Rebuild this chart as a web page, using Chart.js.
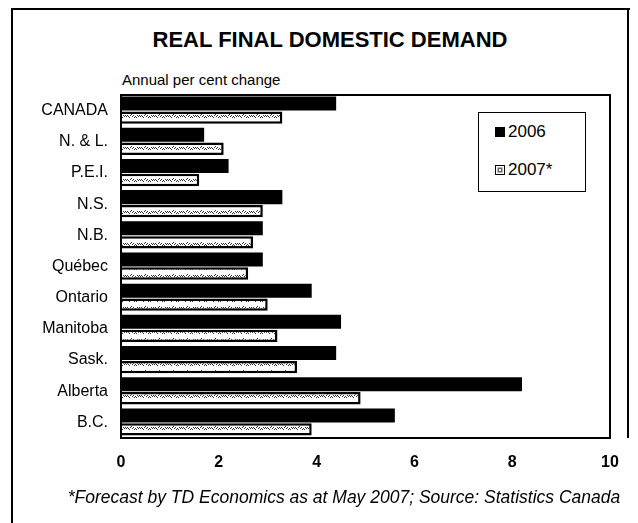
<!DOCTYPE html>
<html>
<head>
<meta charset="utf-8">
<title>Real Final Domestic Demand</title>
<script src="https://cdn.jsdelivr.net/npm/chart.js@4.4.0/dist/chart.umd.min.js"></script>
<style>
  html, body { margin: 0; padding: 0; background: #fff; }
  #wrap { position: relative; width: 638px; height: 523px; overflow: hidden; font-family: "Liberation Sans", Arial, sans-serif; color: #000; }
  #chart { position: absolute; left: 0; top: 0; }
  .frame { position: absolute; left: 11px; top: 8px; width: 617px; height: 530px; border-left: 2px solid #000; border-top: 2px solid #000; }
  .frame-right { position: absolute; left: 627px; top: 8px; width: 0; height: 430px; border-left: 2px solid #000; }
  .title { position: absolute; left: 0; width: 660px; top: 27px; text-align: center; font-weight: bold; font-size: 22px; }
  .subtitle { position: absolute; left: 122px; top: 71px; font-size: 15px; }
  .footer { position: absolute; left: 0; width: 688px; top: 487px; text-align: center; font-style: italic; font-size: 17.5px; }
  .legend { position: absolute; left: 478px; top: 112px; width: 106px; height: 78px; border: 1.5px solid #000; background: #fff; font-size: 17px; }
  .legend div { position: absolute; left: 16px; height: 18px; line-height: 18px; }
  .legend span { display: inline-block; width: 10px; height: 10px; margin-right: 3px; vertical-align: 0px; }
  .sw06 { background: #000; }
  .sw07 { background: #fff; border: 1.5px solid #000; width: 8px !important; height: 8px !important; box-shadow: inset 0 0 0 1.5px #fff, inset 0 0 0 3px #666; }
</style>
</head>
<body>
<div id="wrap">
  <div class="frame"></div>
  <div class="frame-right"></div>
  <div class="title">REAL FINAL DOMESTIC DEMAND</div>
  <div class="subtitle">Annual per cent change</div>
  <canvas id="chart" width="638" height="523"></canvas>
  <div class="legend">
    <div style="top:10px"><span class="sw06"></span>2006</div>
    <div style="top:48px"><span class="sw07"></span>2007*</div>
  </div>
  <div class="footer">*Forecast by TD Economics as at May 2007; Source: Statistics Canada</div>
</div>
<script>
// provinces, top to bottom
var regions = ['CANADA', 'N. & L.', 'P.E.I.', 'N.S.', 'N.B.', 'Québec', 'Ontario', 'Manitoba', 'Sask.', 'Alberta', 'B.C.'];
// annual per cent change
var growth2006 = [4.4, 1.7, 2.2, 3.3, 2.9, 2.9, 3.9, 4.5, 4.4, 8.2, 5.6];
var growth2007 = [3.3, 2.1, 1.6, 2.9, 2.7, 2.6, 3.0, 3.2, 3.6, 4.9, 3.9];
var xTicks = [0, 2, 4, 6, 8, 10];

// speckled fill for the forecast bars
function speckle() {
  var c = document.createElement('canvas');
  c.width = 14; c.height = 8;
  var g = c.getContext('2d');
  g.fillStyle = '#fff';
  g.fillRect(0, 0, 14, 8);
  g.fillStyle = '#333';
  var dots = [[1,3],[2,4],[4,3],[6,4],[7,3],[9,4],[11,3],[12,4],[3,5],[8,5],[13,3],[5,2],[10,5],[0,4]];
  dots.forEach(function (d) { g.fillRect(d[0], d[1], 1, 1); });
  return g.createPattern(c, 'repeat');
}

// black box round the plot area
var plotBorder = {
  id: 'plotBorder',
  afterDraw: function (chart) {
    var a = chart.chartArea, ctx = chart.ctx;
    ctx.save();
    ctx.strokeStyle = '#000';
    ctx.lineWidth = 2;
    ctx.strokeRect(a.left, a.top, a.right - a.left, a.bottom - a.top);
    ctx.restore();
  }
};

var ctx = document.getElementById('chart').getContext('2d');
var chart = new Chart(ctx, {
  type: 'bar',
  data: {
    labels: regions,
    datasets: [{
      label: '2006',
      data: growth2006,
      backgroundColor: '#000',
      borderWidth: 0,
      barPercentage: 1.0,
      categoryPercentage: 0.9
    }, {
      label: '2007*',
      data: growth2007,
      backgroundColor: speckle(),
      borderColor: '#000',
      borderWidth: 2.5,
      barPercentage: 0.88,
      categoryPercentage: 0.9
    }]
  },
  options: {
    indexAxis: 'y',
    responsive: false,
    animation: false,
    layout: { padding: { left: 0, top: 95, right: 28, bottom: 45 } },
    plugins: {
      legend: { display: false },
      tooltip: { enabled: false }
    },
    scales: {
      x: {
        min: 0,
        max: 10,
        afterFit: function (s) { s.height = 40; },
        afterBuildTicks: function (s) { s.ticks = xTicks.map(function (v) { return { value: v }; }); },
        grid: { display: false, drawTicks: false },
        border: { display: false },
        ticks: {
          padding: 15,
          color: '#000',
          maxRotation: 0,
          font: { family: 'Liberation Sans', size: 16, weight: 'bold' }
        }
      },
      y: {
        afterFit: function (s) { s.width = 121; },
        grid: { display: false, drawTicks: false },
        border: { display: false },
        ticks: {
          padding: 13,
          color: '#000',
          autoSkip: false,
          font: { family: 'Liberation Sans', size: 16 }
        }
      }
    }
  },
  plugins: [plotBorder]
});
</script>
</body>
</html>
